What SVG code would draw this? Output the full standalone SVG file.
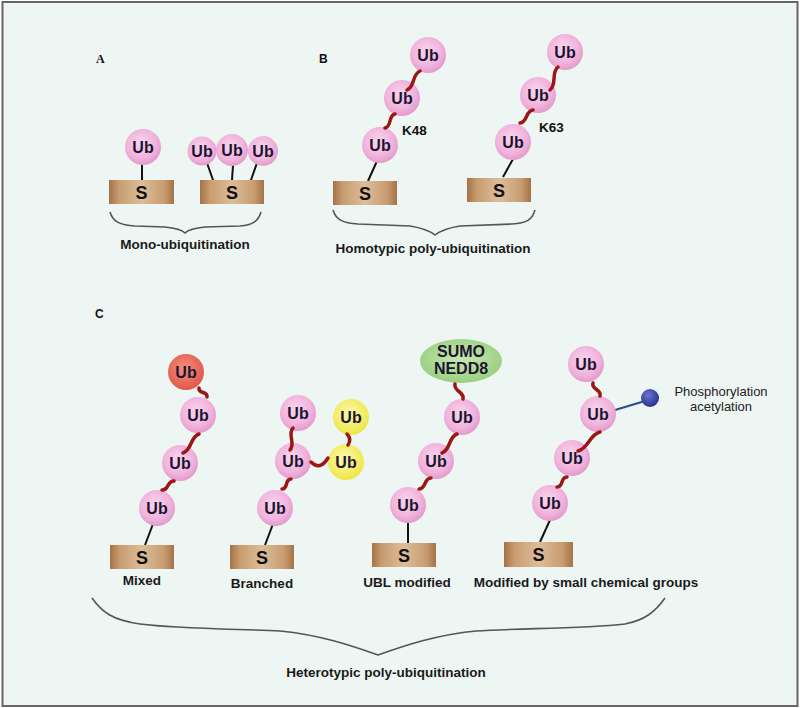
<svg xmlns="http://www.w3.org/2000/svg" width="800" height="708" viewBox="0 0 800 708">
<defs>
<radialGradient id="gUb" cx="45%" cy="40%" r="60%">
<stop offset="0" stop-color="#fad6ef"/><stop offset="0.7" stop-color="#f0b2dc"/><stop offset="1" stop-color="#e39bca"/>
</radialGradient>
<radialGradient id="gRed" cx="45%" cy="40%" r="60%">
<stop offset="0" stop-color="#f49080"/><stop offset="1" stop-color="#e0584a"/>
</radialGradient>
<radialGradient id="gYel" cx="45%" cy="40%" r="60%">
<stop offset="0" stop-color="#fcf9b0"/><stop offset="1" stop-color="#efe646"/>
</radialGradient>
<radialGradient id="gGrn" cx="50%" cy="45%" r="60%">
<stop offset="0" stop-color="#c8e8b4"/><stop offset="1" stop-color="#96cd7a"/>
</radialGradient>
<radialGradient id="gBlue" cx="40%" cy="35%" r="65%">
<stop offset="0" stop-color="#6a74d0"/><stop offset="1" stop-color="#263390"/>
</radialGradient>
<linearGradient id="gS" x1="0" y1="0" x2="1" y2="0">
<stop offset="0" stop-color="#a47246"/><stop offset="0.15" stop-color="#c89c70"/><stop offset="0.5" stop-color="#dcbd99"/><stop offset="0.85" stop-color="#c89c70"/><stop offset="1" stop-color="#a47246"/>
</linearGradient>
<style>
.ub{fill:url(#gUb)}
.ubt{font-family:"Liberation Sans",Arial,sans-serif;font-weight:bold;font-size:16px;fill:#1c1530;text-anchor:middle}
.sb{fill:url(#gS)}
.st{font-family:"Liberation Sans",Arial,sans-serif;font-weight:bold;font-size:18px;fill:#111;text-anchor:middle}
.lab{font-family:"Liberation Sans",Arial,sans-serif;font-weight:bold;font-size:13.5px;fill:#1a1a1a;text-anchor:middle}
.reg{font-family:"Liberation Sans",Arial,sans-serif;font-size:13px;fill:#222;text-anchor:middle}
.k{font-family:"Liberation Sans",Arial,sans-serif;font-weight:bold;font-size:13.5px;fill:#111}
.stem{stroke:#111;stroke-width:2;fill:none}
.lnk{stroke:#9b1717;stroke-width:3.5;fill:none;stroke-linecap:round}
.brace{stroke:#555;stroke-width:1.6;fill:none}
</style>
</defs>
<rect x="0" y="0" width="800" height="708" fill="#ffffff"/>
<rect x="2.5" y="2" width="795" height="704" fill="#eef6f3" stroke="#666" stroke-width="2"/>

<g id="panel-labels">
<text x="96" y="63" font-family="Liberation Serif,serif" font-weight="bold" font-size="12" fill="#111">A</text>
<text x="319" y="63" font-family="Liberation Sans,Arial,sans-serif" font-weight="bold" font-size="12" fill="#111">B</text>
<text x="95" y="318" font-family="Liberation Sans,Arial,sans-serif" font-weight="bold" font-size="12" fill="#111">C</text>
</g>

<g id="stems">
<line class="stem" x1="142" y1="163" x2="142" y2="180"/>
<line class="stem" x1="207" y1="163" x2="213" y2="180"/>
<line class="stem" x1="233" y1="165" x2="232" y2="180"/>
<line class="stem" x1="257" y1="163" x2="251" y2="180"/>
<line class="stem" x1="377" y1="161" x2="368" y2="181"/>
<line class="stem" x1="513" y1="159" x2="503" y2="177"/>
<line class="stem" x1="153" y1="524" x2="145" y2="545"/>
<line class="stem" x1="273" y1="524" x2="265" y2="545"/>
<line class="stem" x1="408" y1="522" x2="408" y2="543"/>
<line class="stem" x1="550" y1="520" x2="540" y2="542"/>
<line x1="615" y1="410" x2="645" y2="401" stroke="#2b4a8a" stroke-width="2"/>
</g>

<g id="A-mono1">
<rect class="sb" x="109" y="180" width="65" height="24"/><text class="st" x="141.5" y="199">S</text>
<circle class="ub" cx="143" cy="147" r="18"/><text class="ubt" x="143" y="153">Ub</text>
</g>
<g id="A-mono3">
<rect class="sb" x="200" y="180" width="64" height="24"/><text class="st" x="232" y="199">S</text>
<circle class="ub" cx="202" cy="151" r="14.5"/><text class="ubt" x="202" y="157">Ub</text>
<circle class="ub" cx="263" cy="151" r="15"/><text class="ubt" x="263" y="157">Ub</text>
<circle class="ub" cx="232" cy="150" r="16"/><text class="ubt" x="232" y="156">Ub</text>
</g>

<g id="B-K48">
<rect class="sb" x="333" y="181" width="64" height="24"/><text class="st" x="365" y="200">S</text>
<circle class="ub" cx="380" cy="145" r="18"/><text class="ubt" x="380" y="151">Ub</text>
<circle class="ub" cx="402" cy="98" r="18"/><text class="ubt" x="402" y="104">Ub</text>
<circle class="ub" cx="428" cy="55" r="18"/><text class="ubt" x="428" y="61">Ub</text>
<text class="k" x="402" y="135">K48</text>
</g>
<g id="B-K63">
<rect class="sb" x="467" y="178" width="64" height="24"/><text class="st" x="499" y="197">S</text>
<circle class="ub" cx="513" cy="142" r="18"/><text class="ubt" x="513" y="148">Ub</text>
<circle class="ub" cx="538" cy="95" r="18"/><text class="ubt" x="538" y="101">Ub</text>
<circle class="ub" cx="565" cy="52" r="18"/><text class="ubt" x="565" y="58">Ub</text>
<text class="k" x="539" y="132">K63</text>
</g>

<g id="C-mixed">
<rect class="sb" x="110" y="545" width="64" height="24"/><text class="st" x="142" y="564">S</text>
<circle class="ub" cx="157" cy="508" r="18"/><text class="ubt" x="157" y="514">Ub</text>
<circle class="ub" cx="180" cy="463" r="18"/><text class="ubt" x="180" y="469">Ub</text>
<circle class="ub" cx="198" cy="415" r="18"/><text class="ubt" x="198" y="421">Ub</text>
<circle fill="url(#gRed)" cx="186" cy="372" r="18"/><text class="ubt" x="186" y="378">Ub</text>
<text class="lab" x="142" y="585">Mixed</text>
</g>
<g id="C-branched">
<rect class="sb" x="230" y="545" width="64" height="24"/><text class="st" x="262" y="564">S</text>
<circle class="ub" cx="275" cy="508" r="18"/><text class="ubt" x="275" y="514">Ub</text>
<circle class="ub" cx="293" cy="461" r="18"/><text class="ubt" x="293" y="467">Ub</text>
<circle class="ub" cx="298" cy="413" r="18"/><text class="ubt" x="298" y="419">Ub</text>
<circle fill="url(#gYel)" cx="351" cy="417" r="18"/><text class="ubt" x="351" y="423">Ub</text>
<circle fill="url(#gYel)" cx="346" cy="462" r="18"/><text class="ubt" x="346" y="468">Ub</text>
<text class="lab" x="262" y="588">Branched</text>
</g>
<g id="C-ubl">
<rect class="sb" x="372" y="543" width="64" height="24"/><text class="st" x="404" y="562">S</text>
<circle class="ub" cx="408" cy="505" r="18"/><text class="ubt" x="408" y="511">Ub</text>
<circle class="ub" cx="436" cy="461" r="18"/><text class="ubt" x="436" y="467">Ub</text>
<circle class="ub" cx="462" cy="417" r="18"/><text class="ubt" x="462" y="423">Ub</text>
<ellipse fill="url(#gGrn)" cx="461" cy="361" rx="41" ry="22"/>
<text class="ubt" x="461" y="357" font-size="13">SUMO</text>
<text class="ubt" x="461" y="374" font-size="13">NEDD8</text>
<text class="lab" x="407" y="587">UBL modified</text>
</g>
<g id="C-chem">
<rect class="sb" x="504" y="542" width="69" height="25"/><text class="st" x="538.5" y="561">S</text>
<circle class="ub" cx="550" cy="503" r="18"/><text class="ubt" x="550" y="509">Ub</text>
<circle class="ub" cx="572" cy="458" r="18"/><text class="ubt" x="572" y="464">Ub</text>
<circle class="ub" cx="598" cy="414" r="18"/><text class="ubt" x="598" y="420">Ub</text>
<circle class="ub" cx="586" cy="364" r="18"/><text class="ubt" x="586" y="370">Ub</text>
<circle fill="url(#gBlue)" cx="650" cy="398" r="9"/>
<text class="reg" x="721" y="396">Phosphorylation</text>
<text class="reg" x="721" y="411">acetylation</text>
<text class="lab" x="586" y="587">Modified by small chemical groups</text>
</g>

<g id="connectors">
<path class="lnk" d="M385 128 c7.4 -1.8 2.6 -12.2 10 -14"/>
<path class="lnk" d="M407 90 c8.4 -3.5 4.6 -15.5 13 -19"/>
<path class="lnk" d="M520 123 c7.8 -0.8 5.2 -12.2 13 -13"/>
<path class="lnk" d="M550 90 c7.4 -6.1 0.6 -16.9 8 -23"/>
<path class="lnk" d="M207 397 c1 -6.3 -9 -2.7 -8 -9"/>
<path class="lnk" d="M183 453 c9.1 -3.1 6.9 -15.9 16 -19"/>
<path class="lnk" d="M162 490 c7 1 5 -10 12 -9"/>
<path class="lnk" d="M290 450 c6 -6.6 -3 -15.4 3 -22"/>
<path class="lnk" d="M282 489 c6.7 0 2.3 -10 9 -10"/>
<path class="lnk" d="M311 462 q9 9 17 -4"/>
<path class="lnk" d="M347 434 q5 5 1 11"/>
<path class="lnk" d="M463 399 c1.7 -7.4 -9.7 -7.6 -8 -15"/>
<path class="lnk" d="M442 453 c8.9 -3.2 6.1 -15.8 15 -19"/>
<path class="lnk" d="M419 489 c7.4 0 4.6 -11 12 -11"/>
<path class="lnk" d="M600 396 c2.1 -6.7 -9.1 -6.3 -7 -13"/>
<path class="lnk" d="M578 451 c10.6 -2.5 11.4 -16.5 22 -19"/>
<path class="lnk" d="M557 487 c6.8 0.2 3.2 -10.2 10 -10"/>
</g>

<g id="braces">
<path class="brace" d="M110 212 C113 222 120 225 135 226 L165 227 C175 228 182 230 185 233 C188 230 195 228 205 227 L240 226 C252 225 258 222 261 212"/>
<path class="brace" d="M333 210 C336 220 343 223 358 224 L410 226 C422 228 430 231 435 235 C440 231 448 228 460 226 L512 224 C527 223 532 220 535 210"/>
<path class="brace" d="M92 598 C102 612 112 620 140 624 C180 629 240 629 280 631 C320 635 350 645 378 655 C406 645 436 635 476 631 C520 628 580 629 625 624 C645 620 655 612 665 598"/>
</g>
<g id="brace-labels">
<text class="lab" x="185" y="249">Mono-ubiquitination</text>
<text class="lab" x="433" y="253">Homotypic poly-ubiquitination</text>
<text class="lab" x="386" y="677">Heterotypic poly-ubiquitination</text>
</g>
</svg>
